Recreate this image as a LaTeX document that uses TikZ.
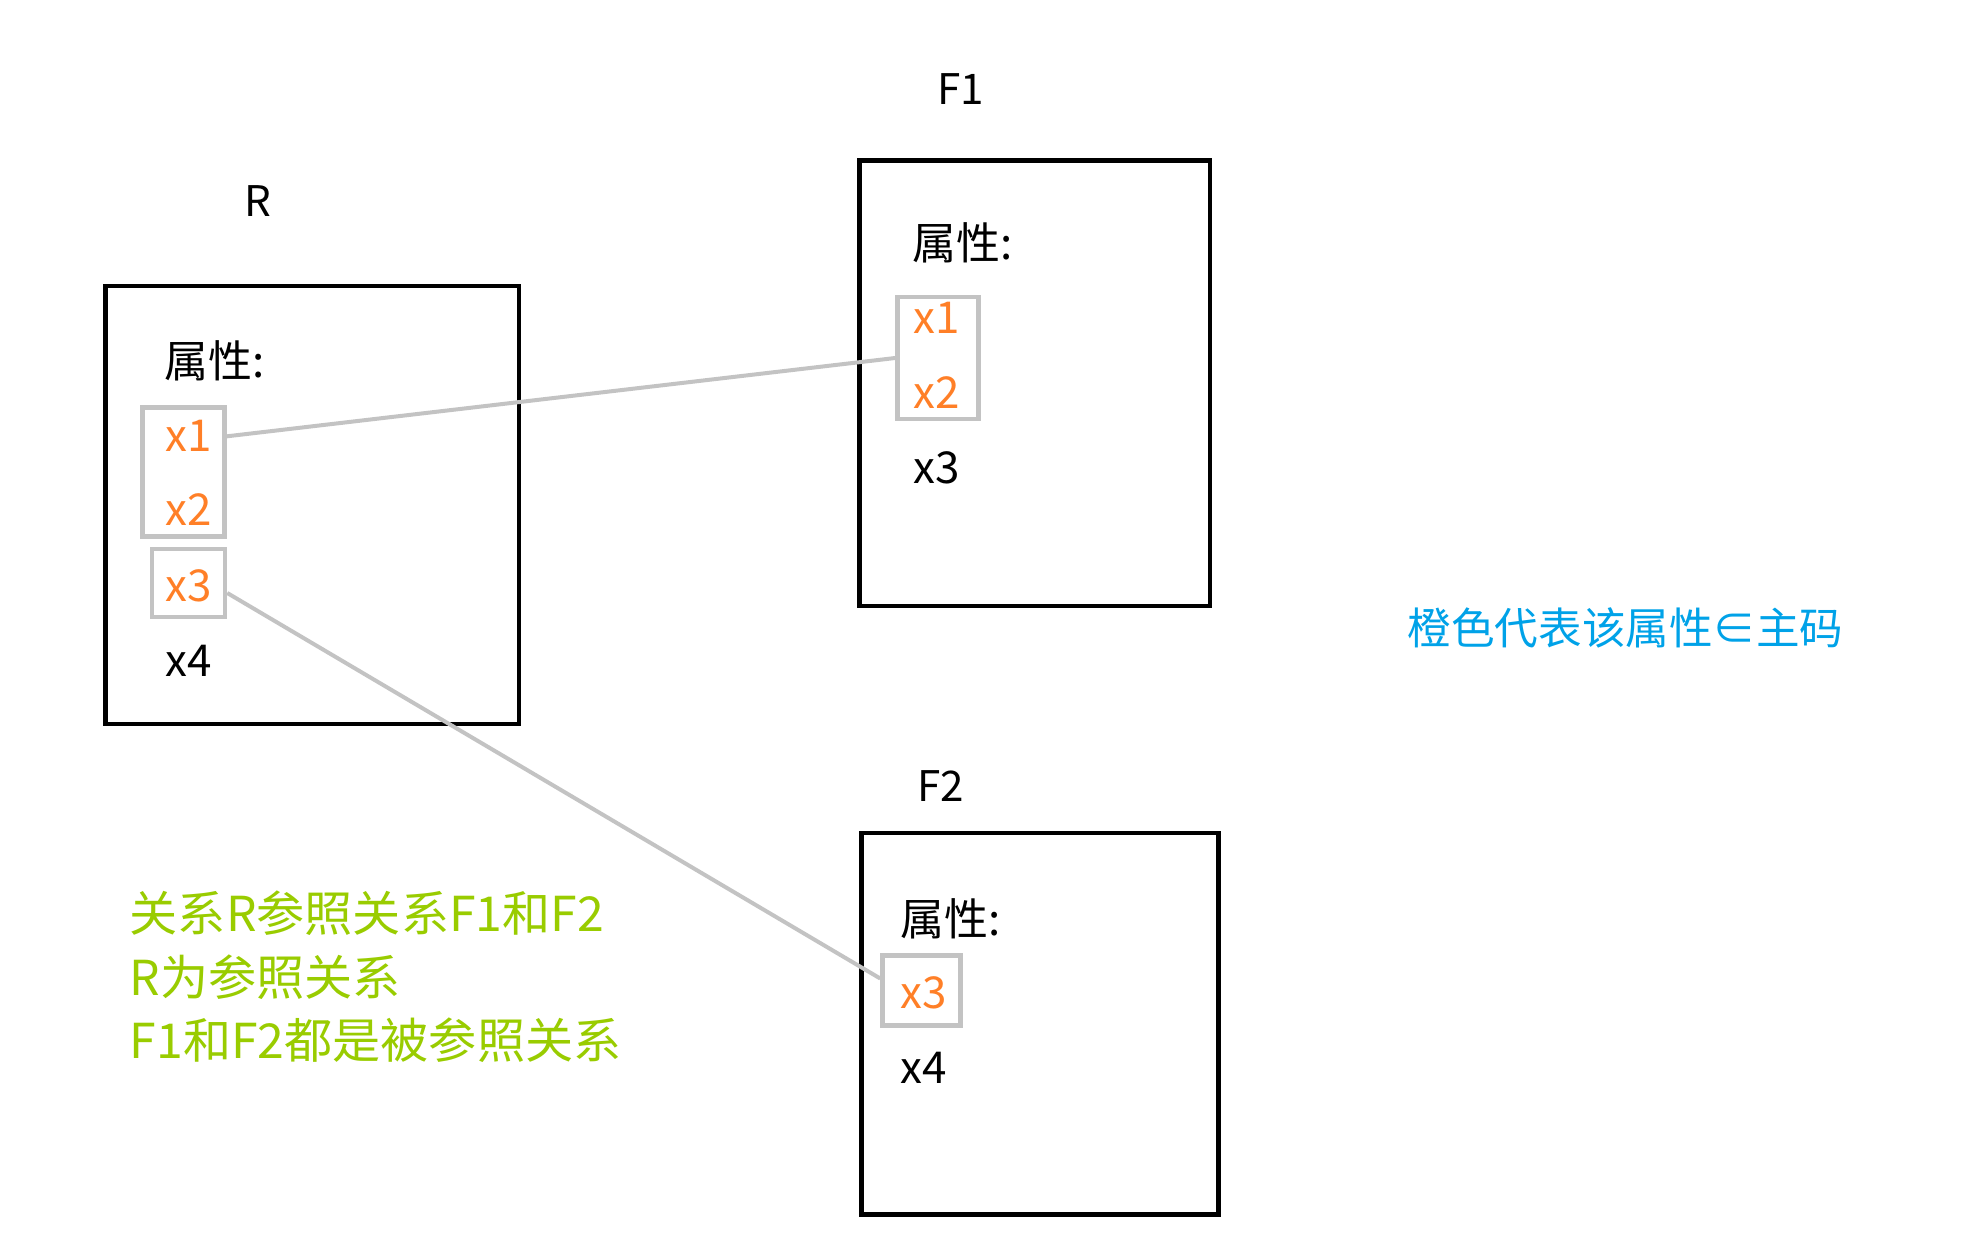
\documentclass[tikz,border=0pt]{standalone}
\usepackage{fontspec}
\setmainfont{Noto Sans CJK SC}
\definecolor{keyorange}{HTML}{FF7F27}
\definecolor{keygray}{HTML}{C3C3C3}
\definecolor{notegreen}{HTML}{99CC00}
\definecolor{noteblue}{HTML}{00A2E8}
\tikzset{%
    rel/.style={draw=black,line width=0.45mm,inner sep=0pt},
    key/.style={draw=keygray,line width=0.45mm,inner sep=0pt},
    lbl/.style={inner sep=0pt,font=\fontsize{12}{14}\selectfont},
    attr/.style={anchor=base west,inner sep=0pt,font=\fontsize{12.5}{15}\selectfont},
    pk/.style={attr,text=keyorange},
    note/.style={anchor=base west,inner sep=0pt,font=\fontsize{13.7}{16}\selectfont,text=notegreen},
    lnk/.style={draw=keygray,line width=0.4mm}
}
\begin{document}
\begin{tikzpicture}
        \useasboundingbox (0,0) rectangle (19.62,12.52);

        % relation R
        \node[lbl] (rname) at (2.58,10.51) {R};
        \node[rel,minimum width=4.135cm,minimum height=4.38cm] (rbox) at (3.1225,7.47) {};
        \node[attr] (rattr) at (1.64,8.74) {属性:};
        \node[key,minimum width=0.82cm,minimum height=1.29cm] (rkey) at (1.835,7.80) {};
        \node[key,minimum width=0.73cm,minimum height=0.68cm] (rx3key) at (1.885,6.69) {};
        \node[pk] (rx1) at (1.65,8.00) {x1};
        \node[pk] (rx2) at (1.65,7.26) {x2};
        \node[pk] (rx3) at (1.65,6.50) {x3};
        \node[attr] (rx4) at (1.65,5.75) {x4};

        % relation F1
        \node[lbl] (f1name) at (9.61,11.63) {F1};
        \node[rel,minimum width=3.505cm,minimum height=4.455cm] (f1box) at (10.3475,8.6875) {};
        \node[attr] (f1attr) at (9.12,9.92) {属性:};
        \node[key,minimum width=0.81cm,minimum height=1.22cm] (f1key) at (9.38,8.94) {};
        \node[pk] (f1x1) at (9.13,9.18) {x1};
        \node[pk] (f1x2) at (9.13,8.43) {x2};
        \node[attr] (f1x3) at (9.13,7.68) {x3};

        % relation F2
        \node[lbl] (f2name) at (9.41,4.66) {F2};
        \node[rel,minimum width=3.57cm,minimum height=3.815cm] (f2box) at (10.40,2.2825) {};
        \node[attr] (f2attr) at (9.00,3.16) {属性:};
        \node[key,minimum width=0.78cm,minimum height=0.70cm] (f2key) at (9.215,2.615) {};
        \node[pk] (f2x3) at (9.00,2.44) {x3};
        \node[attr] (f2x4) at (9.00,1.69) {x4};

        % notes
        \node[note] (note1) at (1.29,3.20) {关系R参照关系F1和F2};
        \node[note] (note2) at (1.29,2.57) {R为参照关系};
        \node[note] (note3) at (1.29,1.94) {F1和F2都是被参照关系};
        \node[note,text=noteblue,font=\fontsize{12.4}{15}\selectfont] (legend) at (14.07,6.07) {橙色代表该属性∈主码};

        \draw[lnk] (rkey.east |- rx1) -- (f1key.west);
        \draw[lnk] ([yshift=-1mm]rx3key.east) -- ([yshift=1.2mm]f2key.west);
    \end{tikzpicture}
\end{document}
